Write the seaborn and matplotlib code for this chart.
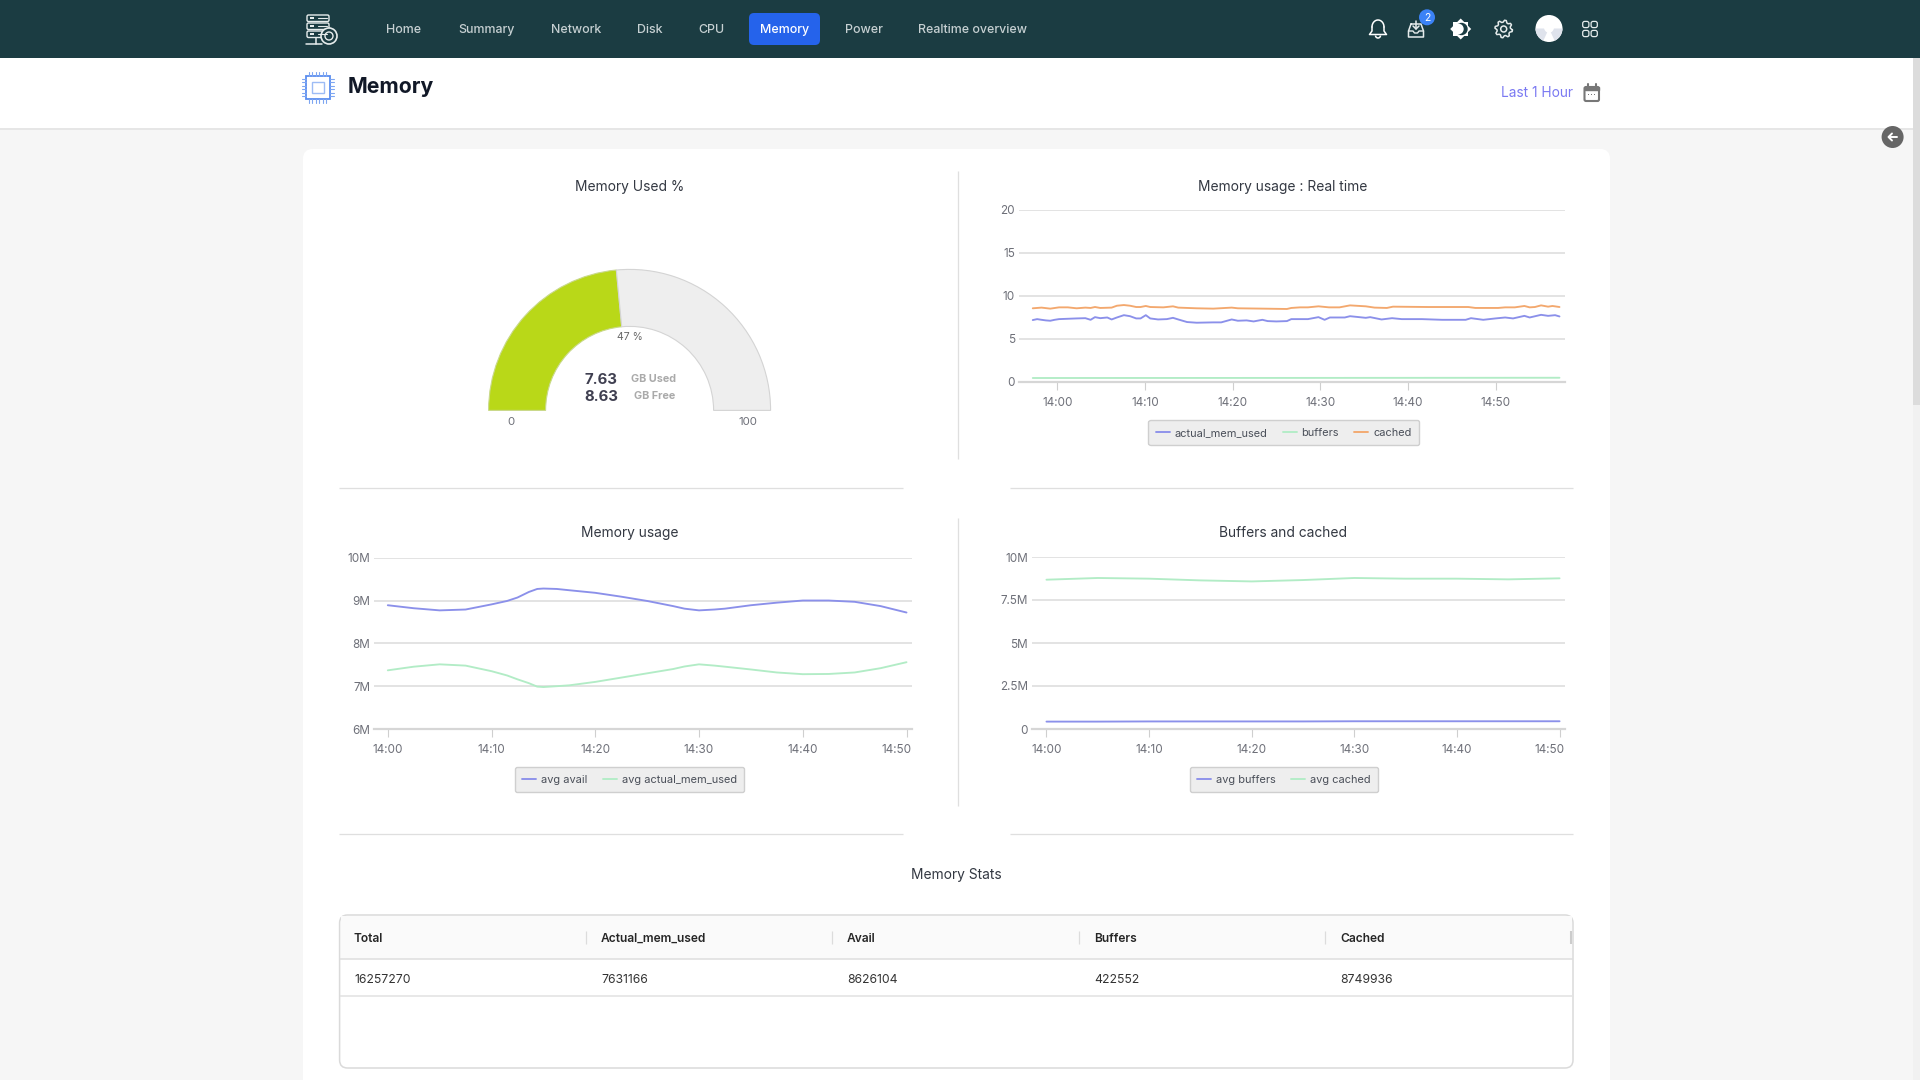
import matplotlib
matplotlib.use("Agg")
import matplotlib.pyplot as plt
import matplotlib.patches as mp
from matplotlib.transforms import ScaledTranslation
import numpy as np
import pandas as pd
import seaborn as sns

# ---------- data ----------
nav_items = ["Home", "Summary", "Network", "Disk", "CPU", "Memory", "Power", "Realtime overview"]
time_labels = ["14:00", "14:10", "14:20", "14:30", "14:40", "14:50"]
time_ticks = [0, 10, 20, 30, 40, 50]

gauge_parts = [47, 53, 100]

rt_used_t = [-2.8,-2.3,-1.8,-1.3,-0.8,-0.3,0.2,1.2,2.2,3.2,3.8,4.3,4.9,5.7,6.2,6.8,7.6,8.3,9.0,9.5,10.1,10.6,11.5,12.5,13.2,13.8,14.8,15.9,17.8,18.7,19.9,20.6,21.6,22.4,23.4,24.0,25.0,26.2,26.7,27.7,28.6,29.8,30.5,31.1,32.8,33.4,35.2,35.7,37.0,38.2,39.3,41.6,43.9,46.6,47.2,48.6,50.0,51.1,52.0,53.3,53.9,55.2,56.0,56.8,57.3]
rt_used_v = [7.18,7.29,7.21,7.14,7.10,7.21,7.29,7.33,7.37,7.40,7.21,7.52,7.40,7.48,7.25,7.48,7.75,7.63,7.37,7.37,7.75,7.37,7.25,7.29,7.44,7.25,6.95,6.87,6.91,6.91,7.25,7.10,7.14,7.02,7.21,7.06,7.02,7.06,7.29,7.29,7.29,7.52,7.21,7.48,7.48,7.63,7.44,7.52,7.25,7.40,7.29,7.29,7.21,7.21,7.40,7.21,7.37,7.48,7.37,7.67,7.48,7.79,7.67,7.75,7.60]
rt_cached_t = [-2.8,-1.8,-0.8,0.2,1.2,2.2,3.2,3.8,4.3,4.9,6.2,6.8,7.6,8.3,9.0,9.5,10.1,10.6,12.1,13.2,13.8,15.9,17.8,19.9,20.6,23.5,26.2,26.7,27.7,28.6,29.8,31.0,32.2,33.4,35.2,36.2,37.6,38.3,42.3,46.9,47.7,50.3,51.1,52.2,53.3,53.9,54.5,55.2,56.0,56.5,57.3]
rt_cached_v = [8.55,8.63,8.51,8.66,8.66,8.55,8.63,8.59,8.70,8.59,8.63,8.85,8.93,8.85,8.70,8.70,8.82,8.70,8.66,8.78,8.63,8.55,8.51,8.63,8.55,8.51,8.47,8.59,8.66,8.66,8.78,8.66,8.66,8.89,8.78,8.63,8.59,8.74,8.70,8.70,8.59,8.59,8.66,8.66,8.82,8.66,8.70,8.89,8.74,8.82,8.70]
rt_buffers_t = [-2.8, 26.5, 57.3]
rt_buffers_v = [0.43, 0.44, 0.46]

usage_t = [0,2.5,5,7.5,10,11.5,12.5,13.6,14.4,15,16.3,17.5,20,22.5,25,27.5,28.6,30,31.5,32.5,35,37.5,40,42.5,45,47.5,50]
avg_avail = [8.89,8.82,8.77,8.79,8.91,8.99,9.07,9.20,9.27,9.28,9.27,9.24,9.18,9.09,8.99,8.87,8.81,8.77,8.79,8.81,8.89,8.95,9.00,9.00,8.97,8.87,8.72]
avg_used = [7.37,7.455,7.51,7.48,7.35,7.25,7.16,7.07,6.99,6.98,7.00,7.02,7.10,7.20,7.30,7.40,7.46,7.51,7.48,7.455,7.39,7.32,7.28,7.285,7.32,7.42,7.56]

buf_t = [0,5,10,15,20,25,30,35,40,45,50]
avg_buffers = [0.43,0.43,0.44,0.44,0.44,0.44,0.45,0.45,0.45,0.45,0.45]
avg_cached = [8.68,8.78,8.74,8.64,8.58,8.66,8.78,8.74,8.74,8.70,8.76]

table_head = ["Total", "Actual_mem_used", "Avail", "Buffers", "Cached"]
table_row = ["16257270", "7631166", "8626104", "422552", "8749936"]

# ---------- style ----------
BLUE, GREEN, ORANGE = "#8b90ea", "#b2ecc6", "#f3a86e"
TICK = "#6e7079"
sns.set_theme(style="white")
plt.rcParams["font.family"] = ["Inter", "Roboto", "DejaVu Sans"]
PX = 0.72

fig = plt.figure(figsize=(19.2, 10.8), dpi=100, facecolor="#f6f6f6")
bg = fig.add_axes([0, 0, 1, 1], zorder=0)
bg.set_xlim(0, 1920); bg.set_ylim(1080, 0); bg.axis("off")

def rect(x0, y0, x1, y1, fc, ec="none", lw=0, round_=0, ax=bg, **k):
    if round_:
        p = mp.FancyBboxPatch((x0, y0), x1-x0, y1-y0, boxstyle=f"round,pad=0,rounding_size={round_}", fc=fc, ec=ec, lw=lw, **k)
    else:
        p = mp.Rectangle((x0, y0), x1-x0, y1-y0, fc=fc, ec=ec, lw=lw, **k)
    ax.add_patch(p); return p

def text(x, y, s, px=13, c="#333", ha="left", w="normal", **k):
    return bg.text(x, y + 1.4, s, fontsize=px*PX, color=c, ha=ha, va="center", fontweight=w, **k)

def line(xs, ys, c, lw=1.0, **k):
    bg.plot(xs, ys, color=c, lw=lw, solid_capstyle=k.pop("cap", "round"), **k)

# ---------- chrome ----------
TOP = "#1b3c42"
rect(0, 0, 1920, 58, TOP)
rect(0, 58, 1920, 128, "white")
rect(0, 128, 1920, 130, "#e6e6e6")
rect(1913, 58, 1920, 1080, "#f1f1f1")
rect(1913, 58, 1920, 405, "#dcdcdc")
rect(303, 149, 1610, 1120, "white", round_=10)

nav_x = [386, 458, 551, 637, 698, 760, 845, 918]
rect(749, 13, 820, 45, "#2563eb", round_=5)
for s, x in zip(nav_items, nav_x):
    text(x, 28.3, s, 12.4, "white" if s == "Memory" else "#c6d0d2", w="medium")

# logo
W = "#e6ecec"
for yy in (15, 23, 31):
    rect(307, yy, 329, yy+6.5, "none", W, 1.0, round_=1.5)
    rect(309.5, yy+2.4, 314, yy+4.2, W)
    line([318, 327], [yy+3.2, yy+3.2], W, 0.8)
bg.add_patch(mp.Circle((329, 36), 8, fc=TOP, ec=W, lw=1.2))
bg.add_patch(mp.Circle((329, 36), 4, fc="none", ec=W, lw=1.0))
line([306, 322], [43.5, 43.5], W, 1.1)
line([316, 316], [38, 43.5], W, 1.1)

# chip icon
CH = "#5b8def"
rect(306, 76, 330, 99, "white", CH, 1.3)
rect(312, 82, 324, 93, "none", "#9dbcf5", 1.0)
for i in range(6):
    line([309+i*3.4]*2, [72, 76], "#7ea6f2", 0.8)
    line([309+i*3.4]*2, [99, 103], "#7ea6f2", 0.8)
    line([302, 306], [79+i*3.4]*2, "#7ea6f2", 0.8)
    line([330, 334], [79+i*3.4]*2, "#7ea6f2", 0.8)
text(348, 85.5, "Memory", 21.2, "#111827", w="bold")

# top-right icons
# bell
th = np.linspace(np.pi, 0, 30)
line(1378+6*np.cos(th), 27-7*np.sin(th), "white", 1.1)
line([1372, 1372, 1369.5, 1386.5, 1384, 1384], [27, 31, 34.5, 34.5, 31, 27], "white", 1.1)
bg.add_patch(mp.Arc((1378, 35.5), 5, 5, theta1=0, theta2=180, ec="white", lw=1.1))
# inbox
line([1411, 1421, 1423.5, 1423.5, 1408.5, 1408.5, 1411], [24, 24, 31, 37, 37, 31, 24], W, 1.1)
line([1408.5, 1413, 1414.5, 1417.5, 1419, 1423.5], [31, 31, 33, 33, 31, 31], W, 1.0)
line([1416, 1416], [21, 29], W, 1.1); line([1413, 1416, 1419], [26, 29, 26], W, 1.1)
bg.add_patch(mp.Circle((1427, 17.3), 8, fc="#3b82f6", ec="none"))
text(1427, 16.3, "2", 10.5, "white", ha="center")
# brightness
bg.add_patch(mp.RegularPolygon((1460.7, 29), 4, radius=10.5, orientation=0, fc="white", ec="none"))
bg.add_patch(mp.RegularPolygon((1460.7, 29), 4, radius=10.5, orientation=np.pi/4, fc="white", ec="none"))
bg.add_patch(mp.Circle((1461.5, 29), 6.2, fc=TOP, ec="none"))
bg.add_patch(mp.Circle((1458.3, 29), 5.4, fc="white", ec="none"))
# gear
ga = np.linspace(0, 2*np.pi, 33)
gr = np.array([8.8, 8.8, 6.8, 6.8] * 8 + [8.8])
line(1503.7+gr*np.cos(ga+0.1), 29+gr*np.sin(ga+0.1), W, 1.1)
bg.add_patch(mp.Circle((1503.7, 29), 3, fc="none", ec=W, lw=1.1))
# avatar
bg.add_patch(mp.Circle((1549, 28.5), 13.5, fc="white", ec="none"))
bg.add_patch(mp.Wedge((1549, 28.5), 13.5, 0, 65, fc="#dfe3ec", ec="none"))
bg.add_patch(mp.Wedge((1549, 28.5), 13.5, 115, 180, fc="#dfe3ec", ec="none"))
bg.add_patch(mp.Ellipse((1549, 25), 11, 16, fc="white", ec="none"))
# grid
for dx in (-4.2, 4.2):
    for dy in (-4.5, 4.5):
        rect(1590+dx-3.1, 29+dy-3.1, 1590+dx+3.1, 29+dy+3.1, "none", W, 0.9, round_=2)

text(1501, 91.5, "Last 1 Hour", 13.7, "#7a79f2")
rect(1584.5, 87, 1599, 101, "none", "#777", 1.5, round_=1.5)
rect(1584.5, 87, 1599, 90, "#777", "#777", 1.0)
line([1588, 1588], [84, 87], "#777", 1.5); line([1595.5, 1595.5], [84, 87], "#777", 1.5)
for dx in (-3, 0, 3):
    rect(1591.7+dx-.6, 93.5, 1591.7+dx+.6, 94.7, "#777")

# back button
bg.add_patch(mp.Circle((1892.6, 137), 11, fc="#666666", ec="none"))
line([1888.5, 1896.5], [137, 137], "white", 1.4)
line([1892, 1888.5, 1892], [133.5, 137, 140.5], "white", 1.4)

# dividers
DV = "#dfdfdf"
for y in (488, 834):
    line([339, 903], [y, y], DV, 0.9, cap="butt")
    line([1010, 1573], [y, y], DV, 0.9, cap="butt")
line([957.6, 957.6], [171, 459], DV, 0.9, cap="butt")
line([957.6, 957.6], [518, 806], DV, 0.9, cap="butt")

# titles
TC = "#333842"
for x, y, s in [(629.5, 185.5, "Memory Used %"), (1283, 185.5, "Memory usage : Real time"),
                (629.5, 532, "Memory usage"), (1283, 532, "Buffers and cached"), (956.7, 874, "Memory Stats")]:
    text(x, y, s, 13.8, TC, ha="center")

# ---------- gauge ----------
def ax_px(x0, y0, x1, y1):
    a = fig.add_axes([x0/1920, 1-y1/1080, (x1-x0)/1920, (y1-y0)/1080], zorder=2)
    a.patch.set_alpha(0)
    return a

gax = ax_px(488.6, 269.4, 770.6, 551.4)
wedges, _ = gax.pie(gauge_parts, colors=["#b9d818", "#eeeeee", "white"], startangle=180, counterclock=False,
                    radius=1, wedgeprops=dict(width=1-84/141, linewidth=0.8, edgecolor="#d4d4d4"))
wedges[0].set_edgecolor("#c9d98a")
wedges[2].set_visible(False)
for w_ in wedges:
    w_.set_clip_on(False)
gax.set_xlim(-1, 1); gax.set_ylim(-1, 1); gax.axis("off")

text(629.5, 335.5, "47 %", 10.5, "#666", ha="center")
text(584.5, 378.7, "7.63", 15, "#3f3f50", w="bold")
text(584.5, 395.7, "8.63", 15, "#3f3f50", w="bold")
text(631, 377.5, "GB Used", 10.8, "#aaaaaa", w="bold")
text(634, 394.5, "GB Free", 10.8, "#aaaaaa", w="bold")
text(511, 420.5, "0", 11.5, TICK, ha="center")
text(747.7, 420.5, "100", 11.5, TICK, ha="center")

# ---------- line charts ----------
def chart(box, frames, palette, xlim, ylim, yticks, ylabels, leg_c, ncol, colspace, last_shift=0):
    ax = ax_px(*box)
    df = pd.concat([pd.DataFrame({"t": t, "v": v, "s": n}) for n, t, v in frames])
    sns.lineplot(data=df, x="t", y="v", hue="s", palette=palette, estimator=None, sort=True, lw=1.35, ax=ax)
    ax.set_xlim(*xlim); ax.set_ylim(*ylim)
    ax.set_xticks(time_ticks, time_labels)
    ax.set_yticks(yticks, ylabels)
    ax.set_xlabel(""); ax.set_ylabel("")
    ax.grid(axis="y", color="#dedede", lw=1.2); ax.set_axisbelow(True)
    for s in ("top", "left", "right"):
        ax.spines[s].set_visible(False)
    ax.spines["bottom"].set_color("#d6d6d6"); ax.spines["bottom"].set_linewidth(1.6)
    ax.tick_params(axis="x", length=5.8, width=0.8, color="#cfcfcf", pad=5.0, labelsize=11.7*PX, labelcolor=TICK, bottom=True)
    ax.tick_params(axis="y", length=0, pad=2.8, labelsize=11.7*PX, labelcolor=TICK)
    if last_shift:
        lab = ax.get_xticklabels()[-1]
        lab.set_transform(lab.get_transform() + ScaledTranslation(last_shift/100, 0, fig.dpi_scale_trans))
    sns.move_legend(ax, "center", bbox_to_anchor=(leg_c[0]/1920, 1-leg_c[1]/1080), bbox_transform=fig.transFigure,
                    ncol=ncol, title=None, frameon=True, fontsize=11*PX, facecolor="#eeeeee", edgecolor="#cfcfcf",
                    framealpha=1, handlelength=1.25, handletextpad=0.45, columnspacing=colspace, borderpad=0.68,
                    labelcolor="#4a4f59", fancybox=True)
    for lg in ax.get_legend().get_lines():
        lg.set_linewidth(1.35)
    return ax

chart((1019, 210, 1565, 381.7),
      [("actual_mem_used", rt_used_t, rt_used_v), ("buffers", rt_buffers_t, rt_buffers_v), ("cached", rt_cached_t, rt_cached_v)],
      [BLUE, GREEN, ORANGE], (-4.37, 57.93), (0, 20), [0, 5, 10, 15, 20], ["0", "5", "10", "15", "20"],
      (1283.7, 432.6), 3, 1.4)
chart((374, 557.7, 912, 729),
      [("avg avail", usage_t, avg_avail), ("avg actual_mem_used", usage_t, avg_used)],
      [BLUE, GREEN], (-1.33, 50.53), (6, 10), [6, 7, 8, 9, 10], ["6M", "7M", "8M", "9M", "10M"],
      (629.5, 779.6), 2, 1.4, last_shift=-10)
chart((1032, 557, 1564.5, 729),
      [("avg buffers", buf_t, avg_buffers), ("avg cached", buf_t, avg_cached)],
      [BLUE, GREEN], (-1.41, 50.48), (0, 10), [0, 2.5, 5, 7.5, 10], ["0", "2.5M", "5M", "7.5M", "10M"],
      (1284, 779.6), 2, 1.4, last_shift=-10)

# ---------- table ----------
rect(339.6, 915, 1573, 1068, "white", "#dadada", 1.1, round_=8)
rect(341, 916, 1572, 959, "#fafafa")
line([340, 1573], [959, 959], "#dedede", 1.1, cap="butt")
line([340, 1573], [996, 996], "#e2e2e2", 1.1, cap="butt")
for x, h, v in zip([354, 601, 847, 1094, 1340], table_head, table_row):
    text(x, 937.3, h, 12, "#262626", w="semibold")
    text(x, 978.5, v, 12.2, "#333333")
for x in (586, 832, 1079, 1325):
    line([x, x], [931, 944], "#dcdcdc", 0.9, cap="butt")
line([1571, 1571], [931, 944], "#cccccc", 1.5, cap="butt")

fig.savefig("out.png", dpi=100, facecolor=fig.get_facecolor())
